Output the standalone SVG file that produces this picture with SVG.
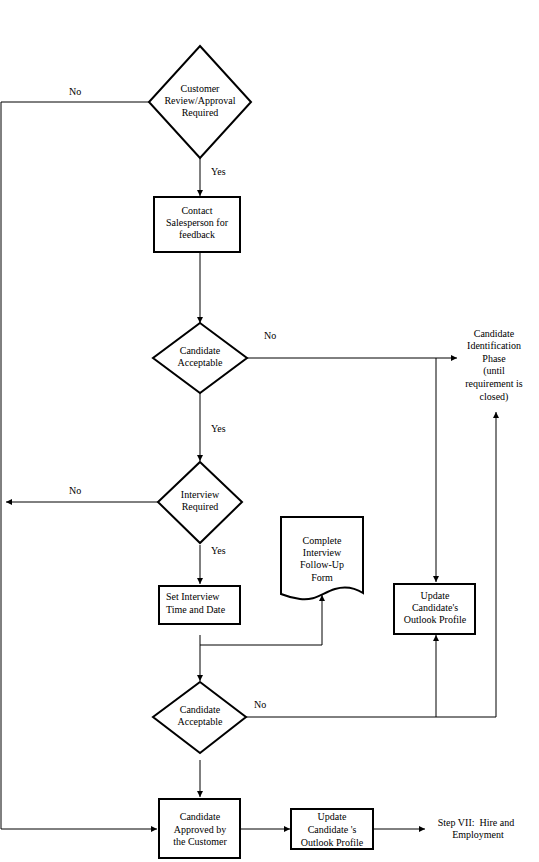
<svg xmlns="http://www.w3.org/2000/svg" width="539" height="862" viewBox="0 0 539 862" font-family="'Liberation Serif', 'DejaVu Serif', serif">
<defs>
<style>
.shape{fill:#fff;stroke:#000;stroke-width:2}
.ln{fill:none;stroke:#000;stroke-width:1}
text{font-family:'Liberation Serif','DejaVu Serif',serif;font-size:10px;fill:#000;text-anchor:middle}
.lbl{text-anchor:start}
</style>
<marker id="ah" markerWidth="8" markerHeight="8" refX="6" refY="3" orient="auto" markerUnits="userSpaceOnUse">
<path d="M0,0 L6,3 L0,6 Z" fill="#000"/>
</marker>
</defs>
<rect width="539" height="862" fill="#fff"/>
<g id="connectors">
<path class="ln" d="M149,102 H1 V829 H157" marker-end="url(#ah)"/>
<path class="ln" d="M200,158 V196" marker-end="url(#ah)"/>
<path class="ln" d="M200,252 V323" marker-end="url(#ah)"/>
<path class="ln" d="M247,358 H457" marker-end="url(#ah)"/>
<path class="ln" d="M436,358 V582" marker-end="url(#ah)"/>
<path class="ln" d="M200,393 V461" marker-end="url(#ah)"/>
<path class="ln" d="M158,502 H6" marker-end="url(#ah)"/>
<path class="ln" d="M200,545 V584" marker-end="url(#ah)"/>
<path class="ln" d="M200,635 V681" marker-end="url(#ah)"/>
<path class="ln" d="M200,645 H322 V595" marker-end="url(#ah)"/>
<path class="ln" d="M246,717 H496 V412" marker-end="url(#ah)"/>
<path class="ln" d="M436,717 V635" marker-end="url(#ah)"/>
<path class="ln" d="M200,760 V797" marker-end="url(#ah)"/>
<path class="ln" d="M240,829 H290" marker-end="url(#ah)"/>
<path class="ln" d="M373,829 H425" marker-end="url(#ah)"/>
<text class="lbl" x="69" y="95">No</text>
<text class="lbl" x="211" y="175">Yes</text>
<text class="lbl" x="264" y="339">No</text>
<text class="lbl" x="211" y="432">Yes</text>
<text class="lbl" x="69" y="494">No</text>
<text class="lbl" x="211" y="554">Yes</text>
<text class="lbl" x="254" y="708">No</text>
</g>
<g id="n1">
<polygon class="shape" points="200,46 251,102 200,158 149,102"/>
<text x="200" y="92">Customer</text>
<text x="200" y="104">Review/Approval</text>
<text x="200" y="116">Required</text>
</g>
<g id="n2">
<rect class="shape" x="154" y="197" width="86" height="55"/>
<text x="197" y="214">Contact</text>
<text x="197" y="226">Salesperson for</text>
<text x="197" y="238">feedback</text>
</g>
<g id="n3">
<polygon class="shape" points="200,323 247,358 200,393 153,358"/>
<text x="200" y="354">Candidate</text>
<text x="200" y="366">Acceptable</text>
</g>
<g id="n4">
<text x="494" y="337">Candidate</text>
<text x="494" y="349">Identification</text>
<text x="494" y="362">Phase</text>
<text x="494" y="374">(until</text>
<text x="494" y="387">requirement is</text>
<text x="494" y="400">closed)</text>
</g>
<g id="n5">
<polygon class="shape" points="200,462 242,502 200,543 158,502"/>
<text x="200" y="498">Interview</text>
<text x="200" y="510">Required</text>
</g>
<g id="n6">
<rect class="shape" x="159" y="586" width="81" height="38"/>
<text class="lbl" x="166" y="600">Set Interview</text>
<text class="lbl" x="166" y="613">Time and Date</text>
</g>
<g id="n7">
<path class="shape" d="M281,517 H363 V593 C355,588 345,586 335,589 C322,593 315,601 300,599 C292,598 286,596 281,594 Z"/>
<text x="322" y="544">Complete</text>
<text x="322" y="556">Interview</text>
<text x="322" y="568">Follow-Up</text>
<text x="322" y="581">Form</text>
</g>
<g id="n8">
<rect class="shape" x="394" y="584" width="81" height="50"/>
<text x="435" y="599">Update</text>
<text x="435" y="611">Candidate's</text>
<text x="435" y="623">Outlook Profile</text>
</g>
<g id="n9">
<polygon class="shape" points="200,682 246,717 200,753 153,717"/>
<text x="200" y="713">Candidate</text>
<text x="200" y="725">Acceptable</text>
</g>
<g id="n10">
<rect class="shape" x="159" y="799" width="81" height="59"/>
<text x="200" y="820">Candidate</text>
<text x="200" y="833">Approved by</text>
<text x="200" y="845">the Customer</text>
</g>
<g id="n11">
<rect class="shape" x="291" y="809" width="82" height="40"/>
<text x="332" y="820">Update</text>
<text x="332" y="833">Candidate 's</text>
<text x="332" y="846">Outlook Profile</text>
</g>
<g id="n12">
<text x="476" y="826">Step VII:&#160; Hire and</text>
<text x="478" y="838">Employment</text>
</g>
</svg>
